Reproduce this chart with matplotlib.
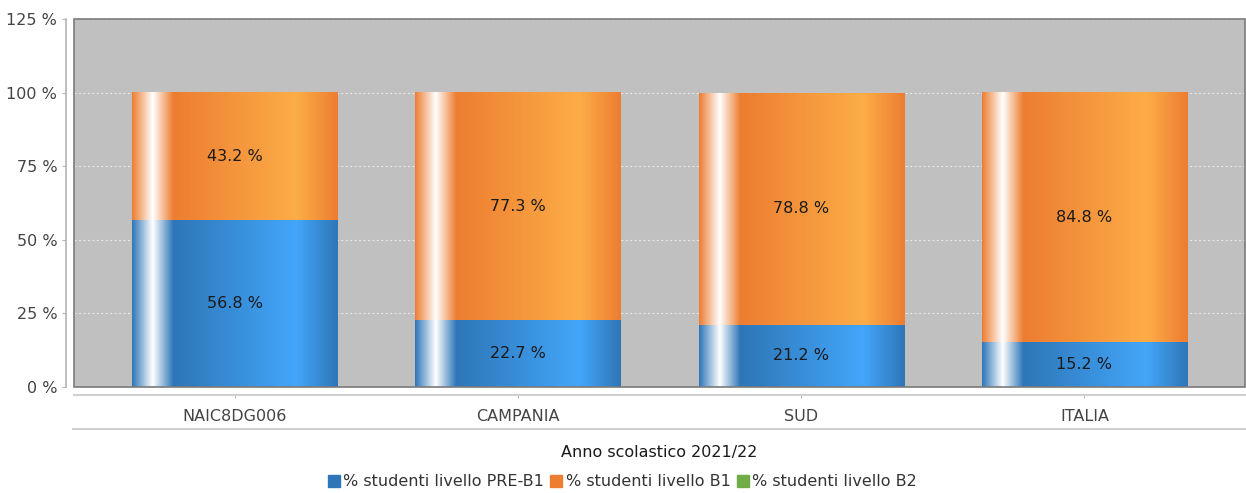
import numpy as np
import matplotlib
matplotlib.use('Agg')
import matplotlib.pyplot as plt
from matplotlib.colors import to_rgb
from matplotlib.lines import Line2D
from matplotlib.patches import Rectangle

# dati
categorie = ['NAIC8DG006', 'CAMPANIA', 'SUD', 'ITALIA']
pre_b1 = [56.8, 22.7, 21.2, 15.2]
b1 = [43.2, 77.3, 78.8, 84.8]
b2 = [0.0, 0.0, 0.0, 0.0]
serie = ['% studenti livello PRE-B1', '% studenti livello B1', '% studenti livello B2']
yticks = [0, 25, 50, 75, 100, 125]

# colori (scuro, chiaro) per il gradiente stile JFreeChart
colori = [('#2e76b7', '#43a6fa'), ('#ed7d31', '#fcad47'), ('#70ad47', '#9fe066')]

W, H = 1246, 493
fig = plt.figure(figsize=(W / 100, H / 100), dpi=100)
ax = fig.add_axes([74 / W, 1 - 387 / H, (1245 - 74) / W, (387 - 19) / H])
ax.set_facecolor('#c0c0c0')

larg = 0.724
FS = 11.5


def gradiente(c0, c1, n=400):
    c0 = np.array(to_rgb(c0))
    c1 = np.array(to_rgb(c1))
    bianco = np.ones(3)
    t = np.linspace(0, 1, n)
    out = np.zeros((n, 3))
    for i, v in enumerate(t):
        if v < 0.10:
            f = v / 0.10
            out[i] = c0 + (bianco - c0) * f
        elif v < 0.20:
            f = (v - 0.10) / 0.10
            out[i] = bianco + (c0 - bianco) * f
        elif v < 0.80:
            f = (v - 0.20) / 0.60
            out[i] = c0 + (c1 - c0) * f
        else:
            f = (v - 0.80) / 0.20
            out[i] = c1 + (c0 - c1) * f
    return out[np.newaxis, :, :]


x = np.arange(len(categorie))
bottom = np.zeros(len(categorie))
for valori, (c0, c1) in zip([pre_b1, b1, b2], colori):
    img = gradiente(c0, c1)
    for i, v in enumerate(valori):
        if v <= 0:
            continue
        ax.imshow(img, extent=(x[i] - larg / 2, x[i] + larg / 2, bottom[i], bottom[i] + v),
                  aspect='auto', zorder=2, interpolation='bilinear')
        ax.text(x[i], bottom[i] + v / 2, f'{v:.1f} %', ha='center', va='center',
                fontsize=FS, color='#1a1a1a', zorder=3)
    bottom += np.array(valori)

ax.set_xlim(-0.567, len(categorie) - 1 + 0.567)
ax.set_ylim(0, 125)
ax.set_yticks(yticks)
ax.set_yticklabels([f'{t} %' for t in yticks])
ax.set_xticks(x)
ax.set_xticklabels(categorie)

for t in yticks[1:]:
    ax.axhline(t, color='#e6e6e6', lw=0.8, ls=(0, (2, 2)), zorder=1)

for s in ['top', 'right']:
    ax.spines[s].set_visible(False)
ax.spines['left'].set_position(('outward', 6))
ax.spines['bottom'].set_position(('outward', 6))
ax.spines['left'].set_color('#b4b4b4')
ax.spines['bottom'].set_color('#d0d0d0')
ax.spines['left'].set_linewidth(1.2)
ax.spines['bottom'].set_linewidth(1.5)
ax.tick_params(axis='y', length=3, color='#b4b4b4', labelsize=FS, labelcolor='#444444', pad=3)
ax.tick_params(axis='x', length=2, color='#b4b4b4', labelsize=FS, labelcolor='#444444', pad=8)

# bordo dell'area del grafico
ax.add_patch(Rectangle((0, 0), 1, 1, transform=ax.transAxes, fill=False,
                       edgecolor='#7a7a7a', lw=1.2, clip_on=False, zorder=5))

# linea sotto le etichette
fig.add_artist(Line2D([73 / W, 1.0], [1 - 428.5 / H, 1 - 428.5 / H], color='#d0d0d0', lw=1.5))

# titolo asse centrato sull'area del grafico
fig.text(659.5 / W, 1 - 453 / H, 'Anno scolastico 2021/22', ha='center', va='center',
         fontsize=FS, color='#1a1a1a')

handles = [Line2D([], [], marker='s', ls='', markersize=8, color=c0) for c0, _ in colori]
fig.legend(handles, serie, loc='center', bbox_to_anchor=(623 / W, 1 - 482 / H), ncol=3,
           frameon=False, fontsize=FS, handlelength=0.6, handletextpad=0.3,
           columnspacing=0.45, labelcolor='#333333', borderaxespad=0, borderpad=0)

fig.savefig('out.png', dpi=100)
